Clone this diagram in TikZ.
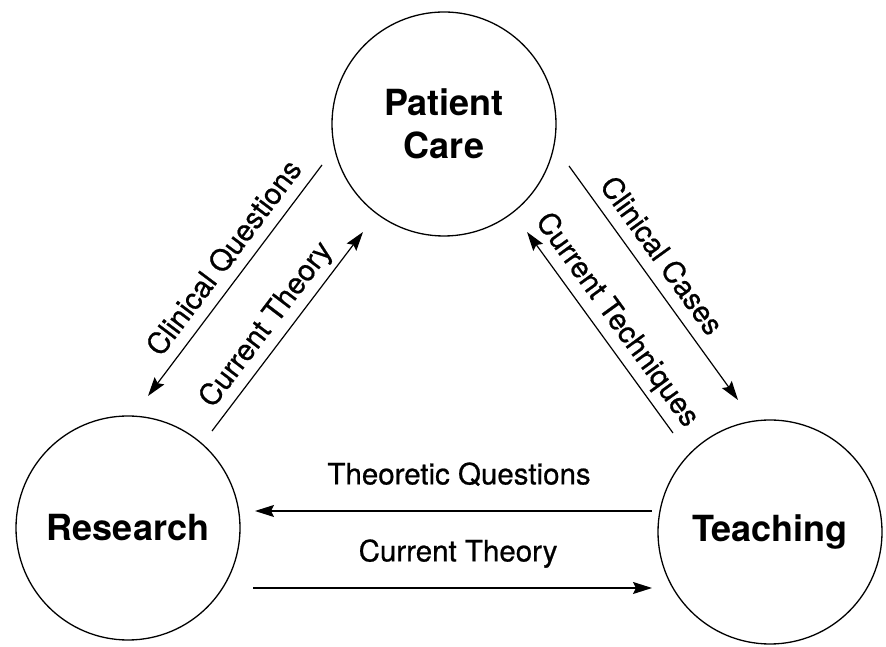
\documentclass[tikz,border=0pt]{standalone}
\usepackage{fontspec}
\setmainfont{TeX Gyre Heros}
\newfontfamily\lblfont[FakeBold=0.7]{TeX Gyre Heros}
\usetikzlibrary{arrows.meta, calc}

\begin{document}
\begin{tikzpicture}[x=1pt, y=1pt, >={Stealth[length=19pt, width=12pt, inset=3pt]},
    field/.style={circle, draw, line width=1.3pt, minimum size=224pt, inner sep=0pt,
      align=center, font=\fontsize{36}{43}\selectfont\bfseries},
    flow/.style={line width=1.2pt},
    lbl/.style={sloped, anchor=south, inner xsep=0pt, inner ysep=12pt, text depth=0pt,
      font=\lblfont\fontsize{29.5}{32}\selectfont},
    hlbl/.style={lbl, inner ysep=26pt}]
  \useasboundingbox (0,0) rectangle (886,647);
  \node[field] (pc) at (444,523) {Patient\\Care};
  \node[field] (rs) at (128,119) {Research};
  \node[field] (te) at (770,115) {Teaching};
  % patient care <-> research
  \draw[flow, <-] ($(rs)+(20,132)$) -- node[lbl, pos=0.54] {Clinical Questions} ($(pc)+(-122,-41)$);
  \draw[flow, ->] ($(rs)+(84,97)$) -- node[lbl, pos=0.47] {Current Theory} ($(pc)+(-81,-108)$);
  % patient care <-> teaching
  \draw[flow, ->] ($(pc)+(125,-42)$) -- node[lbl, pos=0.44] {Clinical Cases} ($(te)+(-32,132)$);
  \draw[flow, <-] ($(pc)+(83,-108)$) -- node[lbl, pos=0.5] {Current Techniques} ($(te)+(-97,99)$);
  % research <-> teaching
  \draw[flow, <-] ($(rs)+(127,17)$) -- node[hlbl, pos=0.514] {Theoretic Questions} ($(te)+(-118,21)$);
  \draw[flow, ->] ($(rs)+(125,-60)$) -- node[hlbl, pos=0.514] {Current Theory} ($(te)+(-118,-56)$);
\end{tikzpicture}
\end{document}
